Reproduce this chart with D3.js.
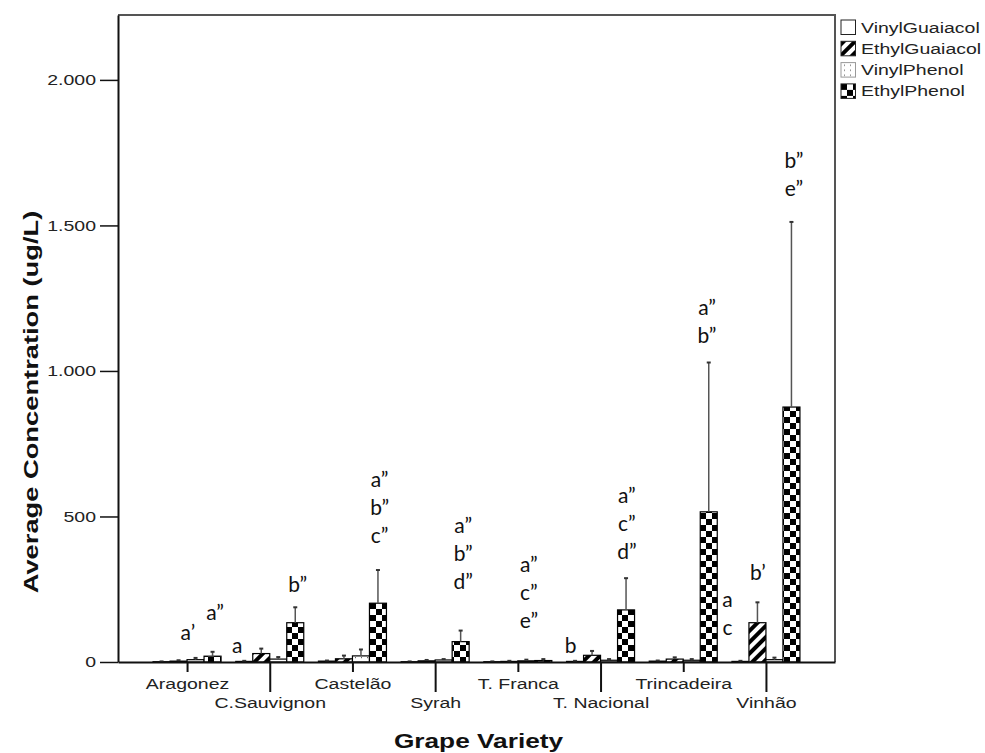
<!DOCTYPE html>
<html>
<head>
<meta charset="utf-8">
<script src="https://cdn.jsdelivr.net/npm/d3@7"></script>
<style>
body { margin: 0; background: #fff; }
.tickText, .legendText { font-family: "Liberation Sans", Arial, sans-serif; font-size: 15px; fill: #222; }
.axisTitle { font-family: "Liberation Sans", Arial, sans-serif; font-size: 21px; font-weight: bold; fill: #111; }
.note { font-family: Lato, "Open Sans", sans-serif; font-size: 21px; fill: #111; }
</style>
</head>
<body>
<script>
// size of svg
var fullWidth = 985;
var fullHeight = 753;

// margins around the plot frame
var margin = {top: 15, right: 150, bottom: 91, left: 118};
var width = fullWidth - margin.left - margin.right;
var height = fullHeight - margin.top - margin.bottom;

// SPSS stretches its text sideways
var squeeze = 1.3;

// grape varieties on the x axis
var categories = ["Aragonez", "C.Sauvignon", "Castelão", "Syrah", "T. Franca",
                  "T. Nacional", "Trincadeira", "Vinhão"];

// phenol series (legend order)
var series = ["VinylGuaiacol", "EthylGuaiacol", "VinylPhenol", "EthylPhenol"];

// average concentrations (ug/L), one value per variety
var vinylGuaiacol = [1, 2, 3, 1, 1, 2, 3, 2];
var ethylGuaiacol = [3, 29, 11, 4, 2, 23, 10, 135];
var vinylPhenol = [8, 10, 21, 7, 4, 6, 6, 8];
var ethylPhenol = [20, 135, 202, 70, 5, 179, 516, 876];

// top of the error bars
var vinylGuaiacolHigh = [2, 4, 5, 2, 2, 4, 5, 4];
var ethylGuaiacolHigh = [6, 46, 22, 7, 4, 38, 16, 205];
var vinylPhenolHigh = [14, 17, 43, 10, 8, 10, 10, 15];
var ethylPhenolHigh = [35, 188, 316, 108, 10, 288, 1029, 1512];

// y axis ticks
var yTicks = [0, 500, 1000, 1500, 2000];

// significance letters: variety, bar slot from group centre, value of first line
var notes = [
    {cat: "Aragonez", slot: 0.05, value: 76, lines: ["a’"]},
    {cat: "Aragonez", slot: 1.65, value: 144, lines: ["a”"]},
    {cat: "Aragonez", slot: 2.95, value: 31, lines: ["a"]},
    {cat: "C.Sauvignon", slot: 1.65, value: 241, lines: ["b”"]},
    {cat: "Castelão", slot: 1.6, value: 601, lines: ["a”", "b”", "c”"]},
    {cat: "Syrah", slot: 1.65, value: 443, lines: ["a”", "b”", "d”"]},
    {cat: "T. Franca", slot: 0.65, value: 309, lines: ["a”", "c”", "e”"]},
    {cat: "T. Franca", slot: 3.1, value: 31, lines: ["b"]},
    {cat: "T. Nacional", slot: 1.55, value: 546, lines: ["a”", "c”", "d”"]},
    {cat: "Trincadeira", slot: 1.4, value: 1192, lines: ["a”", "b”"]},
    {cat: "Trincadeira", slot: 2.6, value: 189, lines: ["a", "c"]},
    {cat: "Vinhão", slot: -0.47, value: 282, lines: ["b’"]},
    {cat: "Vinhão", slot: 1.65, value: 1698, lines: ["b”", "e”"]}
];

var means = [vinylGuaiacol, ethylGuaiacol, vinylPhenol, ethylPhenol];
var highs = [vinylGuaiacolHigh, ethylGuaiacolHigh, vinylPhenolHigh, ethylPhenolHigh];
var fills = ["#fff", "url(#stripes)", "url(#dots)", "url(#checker)"];

// flatten into one list of bars
var bars = [];
for (let s = 0; s < series.length; s++) {
    for (let c = 0; c < categories.length; c++) {
        bars.push({cat: categories[c], series: series[s], s: s,
                   mean: means[s][c], high: highs[s][c]});
    };
};

var svg = d3.select("body")
            .append("svg")
            .attr("width", fullWidth)
            .attr("height", fullHeight);

// fill patterns
var defs = svg.append("defs");

var stripes = defs.append("pattern")
                  .attr("id", "stripes")
                  .attr("patternUnits", "userSpaceOnUse")
                  .attr("width", 8)
                  .attr("height", 8)
                  .attr("patternTransform", "rotate(45)");
stripes.append("rect").attr("width", 8).attr("height", 8).attr("fill", "#fff");
stripes.append("rect").attr("width", 4).attr("height", 8).attr("fill", "#000");

var dots = defs.append("pattern")
               .attr("id", "dots")
               .attr("patternUnits", "userSpaceOnUse")
               .attr("width", 6)
               .attr("height", 5);
dots.append("rect").attr("width", 6).attr("height", 5).attr("fill", "#fff");
dots.append("rect").attr("x", 3).attr("y", 2).attr("width", 1).attr("height", 1.2).attr("fill", "#666");

var checker = defs.append("pattern")
                  .attr("id", "checker")
                  .attr("patternUnits", "userSpaceOnUse")
                  .attr("width", 12)
                  .attr("height", 12);
checker.append("rect").attr("width", 12).attr("height", 12).attr("fill", "#fff");
checker.append("rect").attr("width", 6).attr("height", 6).attr("fill", "#000");
checker.append("rect").attr("x", 6).attr("y", 6).attr("width", 6).attr("height", 6).attr("fill", "#000");

var g = svg.append("g")
           .attr("transform", "translate(" + margin.left + "," + margin.top + ")");

// scales
var xScale = d3.scalePoint()
               .domain(categories)
               .range([0, width])
               .padding(0.835);

var barScale = d3.scaleBand()
                 .domain(series)
                 .range([-34, 34]);

var yScale = d3.scaleLinear()
               .domain([0, 2223])
               .range([height, 0]);

var barW = barScale.bandwidth();

// top and right frame
g.append("path")
 .attr("d", "M0,0H" + width + "V" + height)
 .attr("fill", "none")
 .attr("stroke", "#555")
 .attr("stroke-width", 2);

// bars
g.selectAll(".bar")
 .data(bars)
 .enter()
 .append("rect")
 .attr("class", "bar")
 .attr("x", function(d) { return xScale(d.cat) + barScale(d.series); })
 .attr("y", function(d) { return yScale(d.mean); })
 .attr("width", barW)
 .attr("height", function(d) { return yScale(0) - yScale(d.mean); })
 .attr("fill", function(d) { return fills[d.s]; })
 .attr("stroke", "#000")
 .attr("stroke-width", 1.2);

// upper error bars
g.selectAll(".whisker")
 .data(bars)
 .enter()
 .append("line")
 .attr("class", "whisker")
 .attr("x1", function(d) { return xScale(d.cat) + barScale(d.series) + barW / 2; })
 .attr("x2", function(d) { return xScale(d.cat) + barScale(d.series) + barW / 2; })
 .attr("y1", function(d) { return yScale(d.mean); })
 .attr("y2", function(d) { return yScale(d.high); })
 .attr("stroke", "#555")
 .attr("stroke-width", 1.5);

g.selectAll(".cap")
 .data(bars)
 .enter()
 .append("line")
 .attr("class", "cap")
 .attr("x1", function(d) { return xScale(d.cat) + barScale(d.series) + barW / 2 - 2; })
 .attr("x2", function(d) { return xScale(d.cat) + barScale(d.series) + barW / 2 + 2; })
 .attr("y1", function(d) { return yScale(d.high); })
 .attr("y2", function(d) { return yScale(d.high); })
 .attr("stroke", "#333")
 .attr("stroke-width", 2);

// y axis with dotted thousands
var locale = d3.formatLocale({decimal: ",", thousands: ".", grouping: [3], currency: ["", ""]});
var yAxis = d3.axisLeft(yScale)
              .tickValues(yTicks)
              .tickSizeInner(18)
              .tickSizeOuter(0)
              .tickFormat(locale.format(","));

var yG = g.append("g").call(yAxis);
yG.select(".domain").attr("stroke", "#111").attr("stroke-width", 2);
yG.selectAll(".tick line").attr("stroke", "#111").attr("stroke-width", 1.5);
yG.selectAll("text")
  .attr("class", "tickText")
  .attr("x", -22 / squeeze)
  .attr("transform", "scale(" + squeeze + ",1)");

// x axis, labels on two rows
var xAxis = d3.axisBottom(xScale)
              .tickSizeInner(10)
              .tickSizeOuter(0);

var xG = g.append("g")
          .attr("transform", "translate(0," + height + ")")
          .call(xAxis);
xG.select(".domain").attr("stroke", "#111").attr("stroke-width", 2);
xG.selectAll(".tick").each(function(d, i) {
    var tick = d3.select(this);
    tick.select("line")
        .attr("y2", i % 2 ? 30 : 10)
        .attr("stroke", "#111")
        .attr("stroke-width", 2);
    tick.select("text")
        .attr("class", "tickText")
        .attr("y", i % 2 ? 46 : 27)
        .attr("dy", 0)
        .attr("transform", "scale(" + squeeze + ",1)");
});
xG.attr("font-family", null).attr("font-size", null);
yG.attr("font-family", null).attr("font-size", null);

// significance letters
notes.forEach(function(n) {
    n.lines.forEach(function(t, i) {
        g.append("text")
         .attr("class", "note")
         .attr("text-anchor", "middle")
         .attr("x", xScale(n.cat) + n.slot * barW)
         .attr("y", yScale(n.value) + i * 28)
         .text(t);
    });
});

// axis titles
svg.append("text")
   .attr("class", "axisTitle")
   .attr("text-anchor", "middle")
   .attr("transform", "translate(38,402) rotate(-90) scale(" + squeeze + ",1)")
   .text("Average Concentration (ug/L)");

svg.append("text")
   .attr("class", "axisTitle")
   .attr("text-anchor", "middle")
   .attr("transform", "translate(" + (margin.left + width / 2 + 2) + ",748) scale(1.25,1)")
   .text("Grape Variety");

// legend
var legend = svg.selectAll(".legend")
                .data(series)
                .enter()
                .append("g")
                .attr("class", "legend")
                .attr("transform", function(d, i) {
                    return "translate(" + (margin.left + width + 6) + "," + (20 + i * 21.3) + ")";
                });

legend.append("rect")
      .attr("width", 14.5)
      .attr("height", 14.5)
      .attr("fill", function(d, i) { return fills[i]; })
      .attr("stroke", function(d, i) { return i == 2 ? "#999" : "#222"; })
      .attr("stroke-width", 1);

legend.append("text")
      .attr("class", "legendText")
      .attr("transform", "translate(20,12.5) scale(" + squeeze + ",1)")
      .text(function(d) { return d; });
</script>
</body>
</html>
